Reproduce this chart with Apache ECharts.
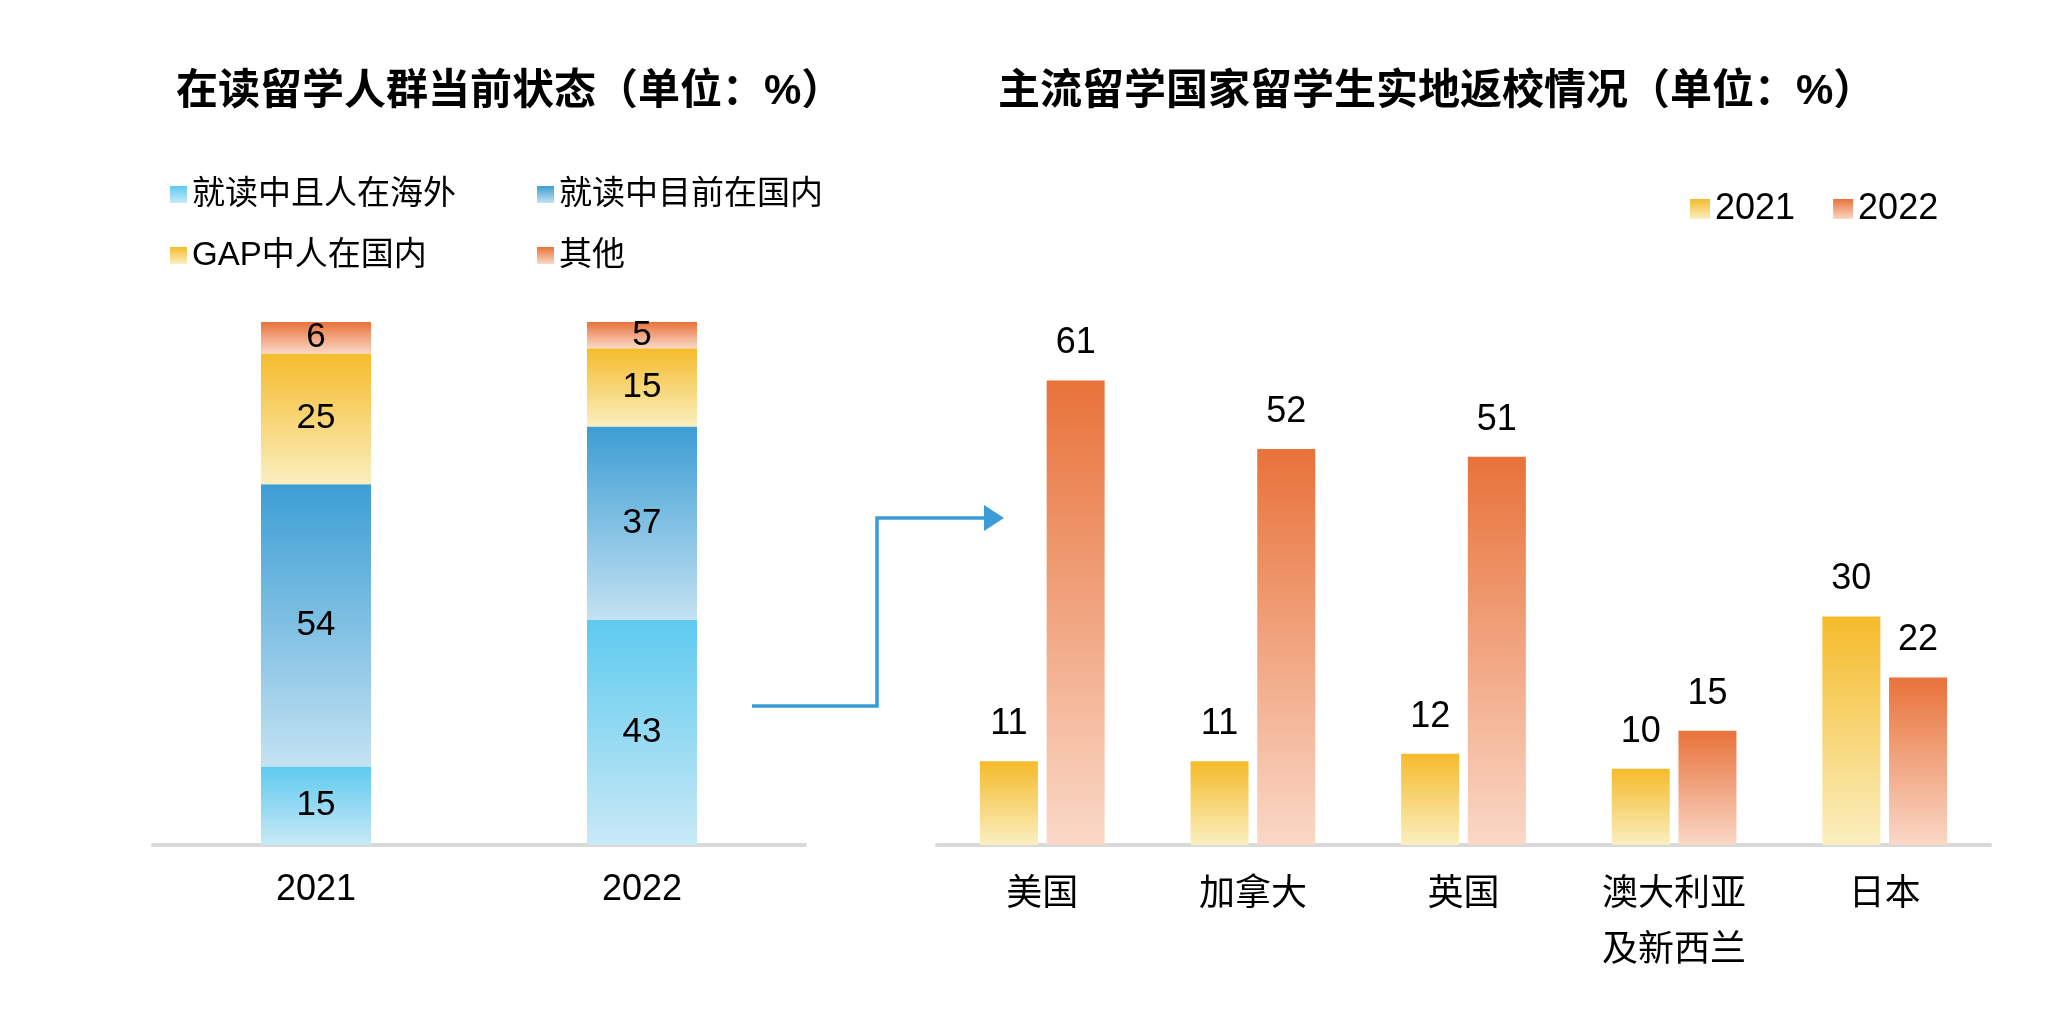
<!DOCTYPE html>
<html>
<head>
<meta charset="utf-8">
<script src="https://cdn.jsdelivr.net/npm/echarts@6/dist/echarts.min.js"></script>
<style>
  html, body { margin: 0; padding: 0; background: #fff; }
  #chart { width: 2062px; height: 1019px; }
</style>
</head>
<body>
<div id="chart"></div>
<script>
// left chart: status of students currently enrolled abroad
const years = ['2021', '2022'];
const statusNames = ['就读中且人在海外', '就读中目前在国内', 'GAP中人在国内', '其他'];
const abroadNow = [15, 43];
const homeNow = [54, 37];
const gapHome = [25, 15];
const others = [6, 5];

// right chart: on-site return to campus by country
const countries = ['美国', '加拿大', '英国', '澳大利亚\n及新西兰', '日本'];
const return2021 = [11, 11, 12, 10, 30];
const return2022 = [61, 52, 51, 15, 22];

const FONT = '"Liberation Sans", "Noto Sans CJK SC", sans-serif';

function grad(top, bottom) {
  return new echarts.graphic.LinearGradient(0, 0, 0, 1, [
    { offset: 0, color: top },
    { offset: 1, color: bottom }
  ]);
}

const lightBlue = grad('#5ecaef', '#c9e9f6');
const blue = grad('#3c9ed4', '#c4e2f2');
const yellow = grad('#f5bb2b', '#faefc0');
const orange = grad('#e8723a', '#fad8c7');

const chart = echarts.init(document.getElementById('chart'));

const stackLabel = {
  show: true,
  position: 'inside',
  fontSize: 35,
  color: '#000',
  fontFamily: FONT
};

const topLabel = {
  show: true,
  position: 'top',
  distance: 19,
  fontSize: 36,
  color: '#000',
  fontFamily: FONT
};

const titleStyle = { fontSize: 42, fontWeight: 'bold', color: '#000', fontFamily: FONT };

const option = {
  backgroundColor: '#fff',
  animation: false,
  textStyle: { fontFamily: FONT },
  title: [
    {
      text: '在读留学人群当前状态（单位：%）',
      left: 176,
      top: 71,
      padding: 0,
      textStyle: titleStyle
    },
    {
      text: '主流留学国家留学生实地返校情况（单位：%）',
      left: 998,
      top: 71,
      padding: 0,
      textStyle: titleStyle
    }
  ],
  legend: [
    {
      data: [statusNames[0], statusNames[2]],
      orient: 'vertical',
      left: 170,
      top: 178,
      padding: 0,
      itemGap: 28,
      itemWidth: 17,
      itemHeight: 17,
      icon: 'rect',
      textStyle: { fontSize: 33, color: '#000', fontFamily: FONT }
    },
    {
      data: [statusNames[1], statusNames[3]],
      orient: 'vertical',
      left: 537,
      top: 178,
      padding: 0,
      itemGap: 28,
      itemWidth: 17,
      itemHeight: 17,
      icon: 'rect',
      textStyle: { fontSize: 33, color: '#000', fontFamily: FONT }
    },
    {
      data: ['2021', '2022'],
      left: 1690,
      top: 191,
      padding: 0,
      itemGap: 38,
      itemWidth: 20,
      itemHeight: 20,
      icon: 'rect',
      textStyle: { fontSize: 36, color: '#000', fontFamily: FONT }
    }
  ],
  grid: [
    { left: 153, right: 1257, top: 322, bottom: 174 },
    { left: 937, right: 72, top: 312, bottom: 174 }
  ],
  xAxis: [
    {
      type: 'category',
      gridIndex: 0,
      data: years,
      axisLine: { lineStyle: { color: '#d9d9d9', width: 4 } },
      axisTick: { show: false },
      axisLabel: { fontSize: 36, color: '#000', margin: 27, fontFamily: FONT }
    },
    {
      type: 'category',
      gridIndex: 1,
      data: countries,
      axisLine: { lineStyle: { color: '#d9d9d9', width: 4 } },
      axisTick: { show: false },
      axisLabel: { fontSize: 36, color: '#000', margin: 22, lineHeight: 56, fontFamily: FONT }
    }
  ],
  yAxis: [
    { type: 'value', gridIndex: 0, min: 0, max: 100, show: false },
    { type: 'value', gridIndex: 1, min: 0, max: 70, show: false }
  ],
  series: [
    {
      name: statusNames[0], type: 'bar', stack: 'status', xAxisIndex: 0, yAxisIndex: 0,
      barWidth: 110, data: abroadNow, itemStyle: { color: lightBlue }, label: stackLabel
    },
    {
      name: statusNames[1], type: 'bar', stack: 'status', xAxisIndex: 0, yAxisIndex: 0,
      barWidth: 110, data: homeNow, itemStyle: { color: blue }, label: stackLabel
    },
    {
      name: statusNames[2], type: 'bar', stack: 'status', xAxisIndex: 0, yAxisIndex: 0,
      barWidth: 110, data: gapHome, itemStyle: { color: yellow }, label: stackLabel
    },
    {
      name: statusNames[3], type: 'bar', stack: 'status', xAxisIndex: 0, yAxisIndex: 0,
      barWidth: 110, data: others, itemStyle: { color: orange }, label: stackLabel
    },
    {
      name: '2021', type: 'bar', xAxisIndex: 1, yAxisIndex: 1,
      barWidth: 58, barGap: '15%', data: return2021,
      itemStyle: { color: yellow }, label: topLabel
    },
    {
      name: '2022', type: 'bar', xAxisIndex: 1, yAxisIndex: 1,
      barWidth: 58, barGap: '15%', data: return2022,
      itemStyle: { color: orange }, label: topLabel
    }
  ],
  // connector arrow between the two charts
  graphic: [
    {
      type: 'polyline',
      shape: { points: [[752, 706], [877, 706], [877, 518], [988, 518]] },
      style: { stroke: '#3a9cd6', lineWidth: 3.5, fill: null }
    },
    {
      type: 'polygon',
      shape: { points: [[984, 505], [1004, 518], [984, 531]] },
      style: { fill: '#3a9cd6' }
    }
  ]
};

chart.setOption(option);
</script>
</body>
</html>
